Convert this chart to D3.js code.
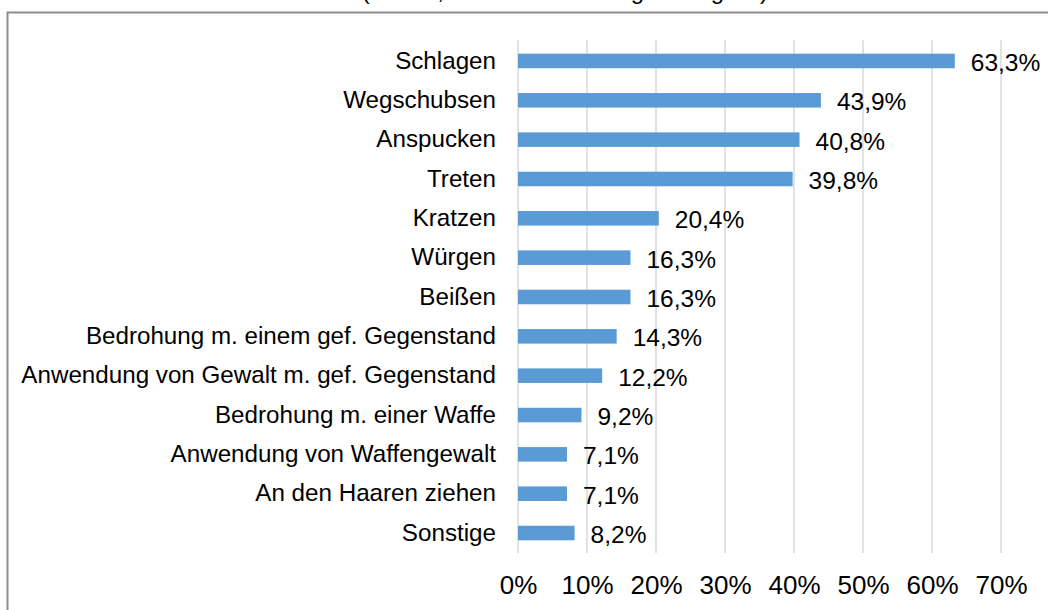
<!DOCTYPE html>
<html>
<head>
<meta charset="utf-8">
<script src="https://cdn.jsdelivr.net/npm/d3@7"></script>
<style>
  html, body { margin: 0; padding: 0; background: #fff; }
  svg { display: block; }
  text { font-family: "Liberation Sans", Arial, sans-serif; fill: #000; }
</style>
</head>
<body>
<svg id="chart" width="1048" height="610"></svg>
<script>
const categories = [
  "Schlagen", "Wegschubsen", "Anspucken", "Treten", "Kratzen", "Würgen", "Beißen",
  "Bedrohung m. einem gef. Gegenstand", "Anwendung von Gewalt m. gef. Gegenstand",
  "Bedrohung m. einer Waffe", "Anwendung von Waffengewalt", "An den Haaren ziehen", "Sonstige"
];
const values = [63.3, 43.9, 40.8, 39.8, 20.4, 16.3, 16.3, 14.3, 12.2, 9.2, 7.1, 7.1, 8.2];
const tickValues = [0, 10, 20, 30, 40, 50, 60, 70];
const titleText = "(n = 98, Mehrfachnennungen möglich)";

const svg = d3.select("#chart");

// frame (partially off-canvas)
svg.append("rect")
  .attr("x", 7.5).attr("y", 12.5)
  .attr("width", 1100).attr("height", 700)
  .attr("fill", "none").attr("stroke", "#8c8c8c").attr("stroke-width", 2);

// title, cut off at the top as in the reference
svg.append("text")
  .attr("x", 565).attr("y", -1)
  .attr("text-anchor", "middle")
  .style("font-size", "24px")
  .text(titleText);

const x = d3.scaleLinear().domain([0, 70]).range([518, 1001]);
const y = d3.scaleBand().domain(categories).range([41.3, 552.7]).paddingInner(0.63).paddingOuter(0.315);

// gridlines
svg.append("g").selectAll("line").data(tickValues).join("line")
  .attr("x1", d => x(d)).attr("x2", d => x(d))
  .attr("y1", 40).attr("y2", 553)
  .attr("stroke", "#d9d9d9").attr("stroke-width", 1.5);

// bars
svg.append("g").selectAll("rect").data(values).join("rect")
  .attr("x", x(0))
  .attr("y", (d, i) => y(categories[i]))
  .attr("width", d => x(d) - x(0))
  .attr("height", y.bandwidth())
  .attr("fill", "#5b9bd5");

// value labels
svg.append("g").selectAll("text").data(values).join("text")
  .attr("x", d => x(d) + 16)
  .attr("y", (d, i) => y(categories[i]) + y.bandwidth() / 2 + 1.5)
  .attr("dy", "0.35em")
  .style("font-size", "24.5px")
  .text(d => d.toFixed(1).replace(".", ",") + "%");

// category axis
const yAxis = d3.axisLeft(y).tickSize(0).tickPadding(22);
const gy = svg.append("g").attr("transform", `translate(${x(0)},0)`).call(yAxis);
gy.select(".domain").remove();
gy.selectAll("text")
  .style("font-size", "24.2px")
  .style("font-family", "'Liberation Sans', Arial, sans-serif")
  .attr("fill", "#000");

// x axis
const xAxis = d3.axisBottom(x).tickValues(tickValues).tickSize(0).tickPadding(0).tickFormat(d => d + "%");
const gx = svg.append("g").attr("transform", "translate(0,576)").call(xAxis);
gx.select(".domain").remove();
gx.selectAll("text")
  .attr("dy", "0.71em")
  .style("font-size", "26px")
  .style("font-family", "'Liberation Sans', Arial, sans-serif")
  .attr("fill", "#000");
</script>
</body>
</html>
